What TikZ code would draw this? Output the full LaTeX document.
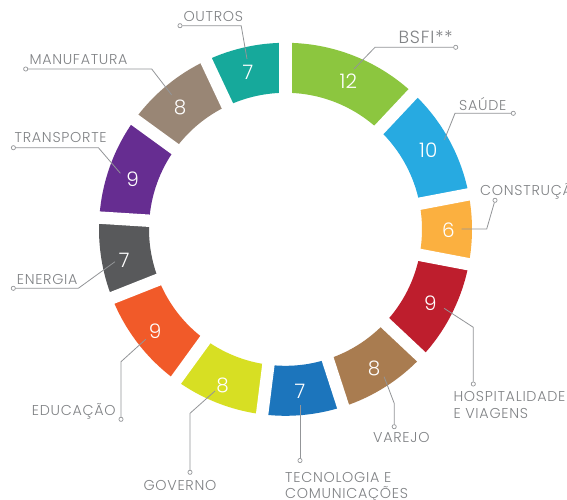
\documentclass[tikz,border=0pt]{standalone}
\usepackage{fontspec}
\IfFontExistsTF{Poppins Light}{\def\myfam{Poppins Light}}{\def\myfam{Poppins}}
\setmainfont{\myfam}
\newfontfamily\lblfont{\myfam}[LetterSpace=5]
\definecolor{cBSFI}{HTML}{8CC63F}
\definecolor{cSAU}{HTML}{27AAE1}
\definecolor{cCON}{HTML}{FBB040}
\definecolor{cHOS}{HTML}{BE1E2D}
\definecolor{cVAR}{HTML}{A97C50}
\definecolor{cTEC}{HTML}{1C75BC}
\definecolor{cGOV}{HTML}{D7DF23}
\definecolor{cEDU}{HTML}{F15A29}
\definecolor{cENE}{HTML}{58595B}
\definecolor{cTRA}{HTML}{662D91}
\definecolor{cMAN}{HTML}{998675}
\definecolor{cOUT}{HTML}{16A99B}
\definecolor{txtgray}{HTML}{808285}
\definecolor{lngray}{HTML}{939598}
\begin{document}
\begin{tikzpicture}[x=1pt,y=-1pt,
  lbl/.style={anchor=base west, inner sep=0pt, text=txtgray, font=\lblfont\fontsize{14.3}{16.5}\selectfont},
  num/.style={inner sep=0pt, text=white, font=\fontsize{20}{22}\selectfont},
  dotm/.style={circle, draw=lngray, fill=white, line width=0.7pt, minimum size=4.2pt, inner sep=0pt},
  leader/.style={draw=lngray, line width=0.8pt}]
\useasboundingbox (0,0) rectangle (567,499);
\fill[white] (0,0) rectangle (567,499);
% ring
\begin{scope}[shift={(285.5,229.3)}, yscale=-1]
  \foreach \a/\b/\c in {90/46.8/cBSFI, 46.8/10.8/cSAU, 10.8/-10.8/cCON, -10.8/-43.2/cHOS,
      -43.2/-72/cVAR, -72/-97.2/cTEC, -97.2/-126/cGOV, -126/-158.4/cEDU,
      -158.4/-183.6/cENE, -183.6/-216/cTRA, -216/-244.8/cMAN, -244.8/-270/cOUT}{
    \fill[\c] (\a:186.5) arc[start angle=\a, end angle=\b, radius=186.5]
      -- (\b:136.5) arc[start angle=\b, end angle=\a, radius=136.5] -- cycle;
  }
  \foreach \a in {90,46.8,10.8,-10.8,-43.2,-72,-97.2,-126,-158.4,-183.6,-216,-244.8}{
    \draw[white, line width=12.4pt] (0,0) -- (\a:200);
  }
\end{scope}
% numbers
\node[num] (nBSFI) at (348.3,81) {12};
\node[num] (nSAU) at (428.3,150) {10};
\node[num] (nCON) at (448.3,230) {6};
\node[num] (nHOS) at (430.4,303.3) {9};
\node[num] (nVAR) at (374,368) {8};
\node[num] (nTEC) at (300,391.7) {7};
\node[num] (nGOV) at (222.7,385) {8};
\node[num] (nEDU) at (155,331.7) {9};
\node[num] (nENE) at (124.3,260) {7};
\node[num] (nTRA) at (132.7,179) {9};
\node[num] (nMAN) at (180,107.3) {8};
\node[num] (nOUT) at (248,72) {7};
% labels
\node[lbl] (tOUT) at (183.3,21) {OUTROS};
\node[lbl] (tMAN) at (29.3,64.3) {MANUFATURA};
\node[lbl] (tTRA) at (14.5,142.7) {TRANSPORTE};
\node[lbl] (tENE) at (16.7,284.3) {ENERGIA};
\node[lbl] (tEDU) at (31.7,415) {EDUCAÇÃO};
\node[lbl] (tGOV) at (143.3,490) {GOVERNO};
\node[lbl] (tTEC1) at (285,482.3) {TECNOLOGIA E};
\node[lbl] (tTEC2) at (285,498.8) {COMUNICAÇÕES};
\node[lbl] (tVAR) at (373,442) {VAREJO};
\node[lbl] (tHOS1) at (453.3,401.7) {HOSPITALIDADE};
\node[lbl] (tHOS2) at (453.3,418.3) {E VIAGENS};
\node[lbl] (tCON) at (480,195) {CONSTRUÇÃO};
\node[lbl] (tSAU) at (459,110.7) {SAÚDE};
\node[lbl, font=\lblfont\fontsize{17.6}{20}\selectfont] (tBSFI) at (398.3,43.3) {BSFI**};
% leader markers and ends
\node[dotm] (mOUT) at (180,25.7) {};
\coordinate (kOUT) at (241.2,25.7);
\coordinate (eOUT) at (247,59);
\node[dotm] (mMAN) at (25.7,69) {};
\coordinate (kMAN) at (151.7,69);
\coordinate (eMAN) at (171.7,95);
\node[dotm] (mTRA) at (13.4,147.7) {};
\coordinate (kTRA) at (98.4,147.7);
\coordinate (eTRA) at (120.4,173.3);
\node[dotm] (mENE) at (13.3,288.3) {};
\coordinate (kENE) at (78.3,288.3);
\coordinate (eENE) at (115,261.7);
\node[dotm] (mEDU) at (121,419.3) {};
\coordinate (kEDU) at (121,361.7);
\coordinate (eEDU) at (145.7,339.3);
\node[dotm] (mGOV) at (190,472.3) {};
\coordinate (kGOV) at (190,413.3);
\coordinate (eGOV) at (215,391);
\node[dotm] (mTEC) at (300,460.5) {};
\coordinate (eTEC) at (300,405);
\node[dotm] (mVAR) at (394.2,426.7) {};
\coordinate (kVAR) at (394.2,403.3);
\coordinate (eVAR) at (384.1,376.7);
\node[dotm] (mHOS) at (473.3,384) {};
\coordinate (kHOS) at (473.3,327.3);
\coordinate (eHOS) at (444.1,308.3);
\node[dotm] (mCON) at (495,200.3) {};
\coordinate (kCON) at (486.7,229);
\coordinate (eCON) at (461.7,229);
\node[dotm] (mSAU) at (513.3,113.3) {};
\coordinate (kSAU) at (455,113.3);
\coordinate (eSAU) at (444.3,140);
\node[dotm] (mBSFI) at (455.7,47.3) {};
\coordinate (kBSFI) at (375,47.3);
\coordinate (eBSFI) at (354,69);
% leaders
\foreach \n in {OUT,MAN,TRA,ENE,EDU,GOV,VAR,HOS,CON,SAU,BSFI}{
  \draw[leader] (m\n) -- (k\n) -- (e\n);
}
\draw[leader] (mTEC) -- (eTEC);
\end{tikzpicture}
\end{document}
